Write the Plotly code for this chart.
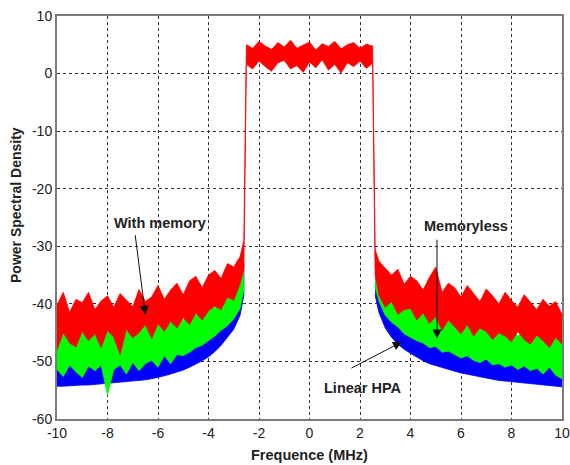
import plotly.graph_objects as go

# ---- frequency grids (MHz) ----
f_left = [-10.0, -9.75, -9.5, -9.25, -9.0, -8.75, -8.5, -8.25, -8.0, -7.75, -7.5, -7.25, -7.0, -6.75,
          -6.5, -6.25, -6.0, -5.75, -5.5, -5.25, -5.0, -4.75, -4.5, -4.25, -4.0, -3.75, -3.5, -3.25,
          -3.0, -2.75, -2.6]
f_right = [2.6, 2.75, 3.0, 3.25, 3.5, 3.75, 4.0, 4.25, 4.5, 4.75, 5.0, 5.25, 5.5, 5.75, 6.0, 6.25,
           6.5, 6.75, 7.0, 7.25, 7.5, 7.75, 8.0, 8.25, 8.5, 8.75, 9.0, 9.25, 9.5, 9.75, 10.0]
f_band = [-2.5, -2.25, -2.0, -1.75, -1.5, -1.25, -1.0, -0.75, -0.5, -0.25, 0.0, 0.25, 0.5, 0.75,
          1.0, 1.25, 1.5, 1.75, 2.0, 2.25, 2.5]

# ---- Linear HPA (blue) envelope ----
blue_lo_left = [-54.3, -54.3, -54.2, -54.2, -54.1, -54.1, -54.0, -54.0, -53.9, -53.8, -53.7, -53.6,
                -53.5, -53.3, -53.2, -53.0, -52.8, -52.5, -52.2, -51.9, -51.5, -51.0, -50.5, -49.9,
                -49.2, -48.3, -47.2, -45.9, -44.4, -42.0, -38.5]
blue_hi_left = [-50.5, -51.0, -50.2, -50.8, -50.0, -50.6, -50.0, -50.5, -49.8, -50.2, -49.6, -50.0,
                -49.4, -49.6, -49.0, -49.2, -48.6, -48.5, -48.0, -47.8, -47.2, -46.8, -46.0, -45.6,
                -44.8, -44.0, -43.0, -41.8, -40.5, -38.0, -33.0]
blue_lo_right = [-38.5, -41.5, -44.2, -45.8, -47.0, -47.9, -48.6, -49.3, -49.9, -50.4, -50.8, -51.1,
                 -51.4, -51.7, -52.0, -52.2, -52.5, -52.7, -52.9, -53.1, -53.3, -53.4, -53.5, -53.7,
                 -53.8, -53.9, -54.0, -54.1, -54.2, -54.3, -54.4]
blue_hi_right = [-33.0, -37.5, -40.5, -41.8, -43.0, -44.0, -44.8, -45.5, -46.2, -46.6, -47.2, -47.5,
                 -48.0, -48.3, -48.6, -48.8, -49.2, -49.4, -49.6, -49.8, -50.0, -50.2, -50.4, -50.5,
                 -50.6, -50.8, -50.8, -51.0, -51.0, -51.2, -51.0]

# ---- Memoryless (green) envelope ----
green_lo_left = [-51.4, -52.6, -50.6, -51.8, -52.8, -50.8, -51.6, -50.6, -55.8, -51.4, -50.6, -52.2,
                 -50.2, -51.6, -50.4, -49.8, -51.0, -49.0, -50.4, -48.8, -49.0, -48.4, -47.6, -47.2,
                 -46.4, -45.6, -44.6, -43.8, -42.6, -40.8, -37.5]
green_hi_left = [-45.8, -44.2, -46.4, -43.6, -45.0, -46.0, -43.4, -45.4, -44.6, -43.8, -46.0, -43.2,
                 -44.8, -44.0, -42.6, -44.8, -42.0, -43.6, -42.8, -41.4, -43.0, -40.6, -42.0, -40.8,
                 -39.6, -40.8, -38.6, -38.8, -37.2, -35.6, -33.0]
green_lo_right = [-37.0, -39.5, -42.0, -43.2, -44.0, -45.2, -45.8, -46.4, -46.8, -47.6, -47.4, -48.4,
                  -48.2, -48.8, -49.4, -49.0, -49.8, -50.2, -49.6, -50.6, -50.4, -51.0, -50.6, -51.4,
                  -50.8, -51.6, -51.2, -52.2, -51.0, -52.4, -53.0]
green_hi_right = [-33.0, -35.2, -37.2, -38.2, -38.8, -38.0, -40.6, -39.6, -41.4, -40.6, -42.0, -41.0,
                  -42.8, -42.2, -43.6, -42.4, -44.2, -43.2, -44.6, -43.6, -44.0, -45.4, -44.2, -45.6,
                  -44.8, -46.2, -45.0, -45.6, -46.6, -45.2, -46.0]

# ---- With memory (red) envelope ----
red_lo_left = [-48.0, -45.0, -46.8, -47.5, -44.8, -46.4, -45.2, -47.6, -44.6, -45.8, -48.8, -44.4,
               -45.9, -45.0, -43.6, -46.0, -43.4, -44.8, -43.0, -44.2, -42.4, -43.6, -41.6, -42.8,
               -41.2, -40.4, -41.0, -38.8, -39.4, -36.5, -34.0]
red_hi_left = [-40.2, -38.0, -41.5, -39.2, -39.8, -38.0, -41.0, -39.5, -38.6, -40.6, -38.2, -39.4,
               -40.5, -37.5, -39.6, -38.8, -36.8, -39.2, -37.6, -36.4, -38.4, -36.0, -35.2, -37.2,
               -35.0, -34.2, -35.6, -33.0, -33.6, -31.8, -29.0]
red_lo_right = [-35.0, -38.5, -40.6, -39.6, -41.8, -41.0, -40.8, -42.8, -41.6, -43.4, -42.2, -44.6,
                -42.8, -44.0, -45.2, -43.6, -45.6, -44.2, -44.8, -46.2, -45.0, -45.6, -46.6, -44.8,
                -46.2, -47.0, -45.4, -46.4, -47.6, -45.8, -47.0]
red_hi_right = [-30.5, -32.6, -33.8, -35.0, -34.0, -36.6, -35.2, -36.0, -37.6, -35.4, -33.6, -38.0,
                -36.4, -37.2, -38.8, -36.8, -38.2, -39.6, -37.4, -38.6, -40.0, -38.0, -39.4, -40.6,
                -38.4, -39.8, -41.0, -39.2, -40.4, -39.6, -41.8]
red_hi_band = [5.0, 4.4, 5.6, 4.8, 4.2, 5.4, 4.6, 5.8, 4.4, 5.0, 5.5, 4.1, 5.2, 4.7, 5.6, 4.3, 5.0,
               5.4, 4.4, 5.1, 4.8]
red_lo_band = [1.6, 0.8, 2.2, 1.2, 0.4, 1.9, 2.3, 0.8, 1.4, 0.2, 2.0, 1.0, 2.4, 0.6, 1.6, 0.1, 1.9,
               1.2, 2.2, 0.9, 1.8]

x_ticks = [-10, -8, -6, -4, -2, 0, 2, 4, 6, 8, 10]
y_ticks = [-60, -50, -40, -30, -20, -10, 0, 10]

BLUE, GREEN, RED = "#0000ff", "#00ff00", "#ff0000"
FONT = "Arial, Liberation Sans, sans-serif"


def band(x, lo, hi, color, name):
    xs = list(x) + list(x)[::-1]
    ys = list(hi) + list(lo)[::-1]
    return go.Scatter(x=xs, y=ys, fill="toself", fillcolor=color, mode="lines",
                      line=dict(color=color, width=0.8), name=name, showlegend=False,
                      hoverinfo="skip")


fig = go.Figure()
fig.add_trace(band(f_left, blue_lo_left, blue_hi_left, BLUE, "Linear HPA"))
fig.add_trace(band(f_right, blue_lo_right, blue_hi_right, BLUE, "Linear HPA"))
fig.add_trace(band(f_left, green_lo_left, green_hi_left, GREEN, "Memoryless"))
fig.add_trace(band(f_right, green_lo_right, green_hi_right, GREEN, "Memoryless"))
fig.add_trace(band(f_left + f_band + f_right,
                   red_lo_left + red_lo_band + red_lo_right,
                   red_hi_left + red_hi_band + red_hi_right, RED, "With memory"))

txt_font = dict(family=FONT, size=14.5, color="#222")
arrow = dict(text="", showarrow=True, axref="x", ayref="y", arrowhead=2, arrowsize=1.8,
             arrowwidth=1, arrowcolor="#111")

annotations = [
    dict(x=-5.92, y=-26.0, text="<b>With memory</b>", showarrow=False, font=txt_font),
    dict(x=6.2, y=-26.5, text="<b>Memoryless</b>", showarrow=False, font=txt_font),
    dict(x=2.1, y=-54.6, text="<b>Linear HPA</b>", showarrow=False, font=txt_font),
    dict(x=-6.5, y=-41.9, ax=-6.91, ay=-27.8, **arrow),
    dict(x=5.05, y=-46.0, ax=5.05, ay=-28.6, **arrow),
    dict(x=3.66, y=-46.6, ax=1.6, ay=-51.3, **arrow),
    # axis titles
    dict(xref="paper", yref="paper", x=0.5, y=0, yshift=-36, text="<b>Frequence (MHz)</b>",
         showarrow=False, font=txt_font, yanchor="middle"),
    dict(xref="paper", yref="paper", x=0, y=0.531, xshift=-41,
         text="<b>Power Spectral Density</b>", showarrow=False,
         font=dict(family=FONT, size=14, color="#222"), textangle=-90, xanchor="center"),
]

axis_common = dict(showgrid=True, gridcolor="#333", griddash="3px,3px", gridwidth=1,
                   zeroline=False, showline=True, linecolor="#7a7a7a", linewidth=2, mirror=True,
                   ticks="", automargin=False,
                   tickfont=dict(family=FONT, size=14, color="#222"))

fig.update_layout(
    width=570, height=465,
    margin=dict(l=57, r=8, t=16, b=46),
    paper_bgcolor="white", plot_bgcolor="white",
    annotations=annotations,
    xaxis=dict(range=[-10, 10], tickvals=x_ticks, ticktext=[str(v) for v in x_ticks],
               **axis_common),
    yaxis=dict(range=[-60, 10], tickvals=y_ticks, ticktext=[str(v) for v in y_ticks],
               **axis_common),
)

# remove the browser's default 8px page margin so the figure fills the window
fig.write_html("out.html", config={"displayModeBar": False},
               post_script="document.body.style.margin='0';document.body.style.overflow='hidden';")
